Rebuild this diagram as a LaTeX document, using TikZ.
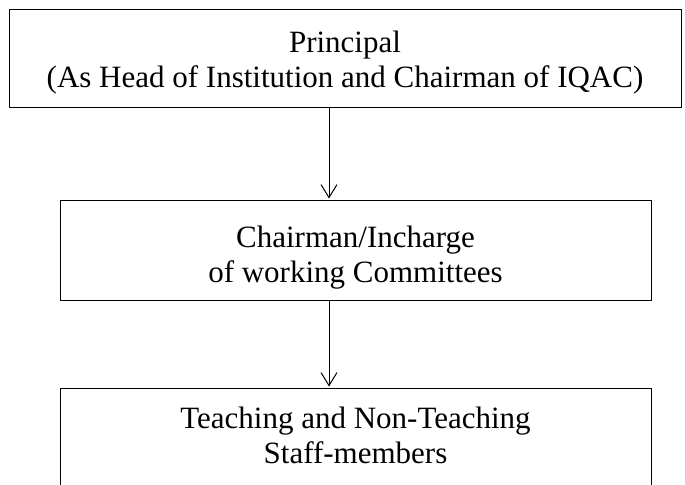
\documentclass[tikz,border=0pt]{standalone}
\usepackage{fontspec}
\setmainfont{Liberation Serif}
\usetikzlibrary{arrows.meta}

\begin{document}
\begin{tikzpicture}[line cap=round,line join=round,>={Straight Barb[length=6.5pt,width=8pt]},x=0.5pt,y=0.5pt,
laatikko/.style={draw,line width=0.5pt,align=center,inner sep=0pt,text depth=0pt,font=\fontsize{15.5pt}{17.5pt}\selectfont}]
\useasboundingbox (0,0) rectangle (685,485);
\clip (0,0) rectangle (685,485);
%laatikot
\node[laatikko,minimum width=336pt,minimum height=49pt,text height=28.5pt] (principal) at (345,426) {Principal\\(As Head of Institution and Chairman of IQAC)};
\node[laatikko,minimum width=295.5pt,minimum height=50pt,text height=32pt] (chairman) at (355.5,234) {Chairman/Incharge\\of working Committees};
\node[laatikko,minimum width=295.5pt,minimum height=50pt,text height=25pt] (staff) at (355.5,46) {Teaching and Non-Teaching\\Staff-members};
%nuolet
\draw[->,line width=0.5pt,shorten >=1pt] ([xshift=-8pt]principal.south) -- ([xshift=-13.25pt]chairman.north);
\draw[->,line width=0.5pt,shorten >=1pt] ([xshift=-13.25pt]chairman.south) -- ([xshift=-13.25pt]staff.north);
\end{tikzpicture}
\end{document}
